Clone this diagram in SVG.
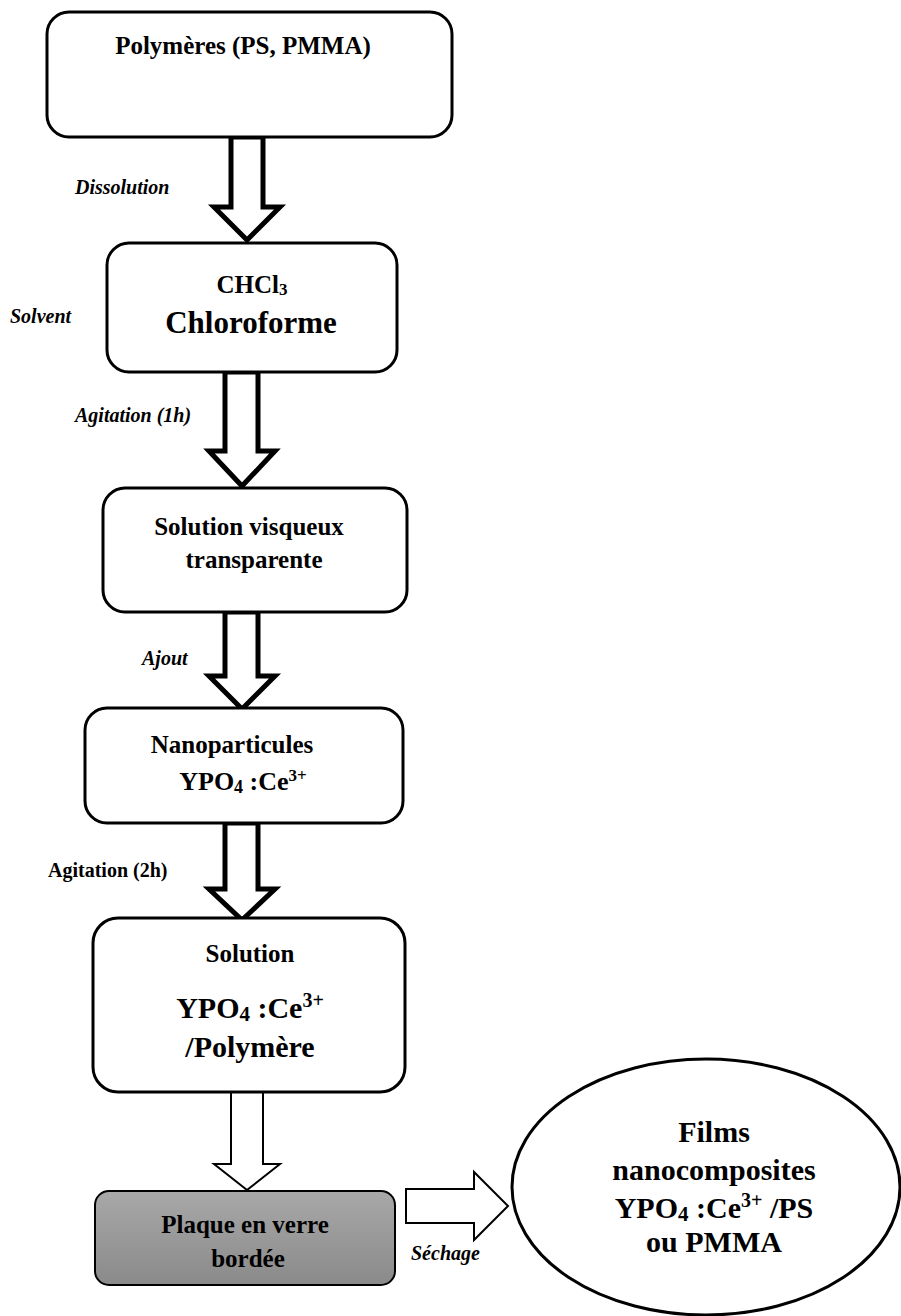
<svg xmlns="http://www.w3.org/2000/svg" width="901" height="1316" viewBox="0 0 901 1316">
<style>
.box{fill:#fff;stroke:#000;stroke-width:3}
.t{font-family:"Liberation Serif","Times New Roman",serif;font-weight:bold;fill:#000;text-anchor:middle}
.lbl{font-family:"Liberation Serif","Times New Roman",serif;font-weight:bold;font-style:italic;fill:#000}
.lb{font-family:"Liberation Serif","Times New Roman",serif;font-weight:bold;fill:#000}
.ar{fill:#fff;stroke:#000;stroke-width:5;stroke-linejoin:miter}
.ar2{fill:#fff;stroke:#000;stroke-width:2;stroke-linejoin:miter}
</style>
<defs>
<linearGradient id="gray" x1="0" y1="0" x2="0" y2="1">
<stop offset="0" stop-color="#a8a8a8"/>
<stop offset="1" stop-color="#8a8a8a"/>
</linearGradient>
</defs>

<g id="connectors">
<polygon class="ar" points="231,137 263,137 263,207 280,207 247,240 214,207 231,207"/>
<polygon class="ar" points="225,372 258,372 258,451 275,451 242,486 209,451 225,451"/>
<polygon class="ar" points="225,612 258,612 258,676 275,676 242,709 209,676 225,676"/>
<polygon class="ar" points="225,823 258,823 258,889 275,889 242,920 209,889 225,889"/>
<polygon class="ar2" points="231,1092 263,1092 263,1164 280,1164 247,1190 214,1164 231,1164"/>
<polygon class="ar2" points="406,1189 474,1189 474,1172 508,1206 474,1240 474,1223 406,1223"/>
<text class="lbl" x="75" y="194" font-size="20">Dissolution</text>
<text class="lbl" x="10" y="323" font-size="20">Solvent</text>
<text class="lbl" x="75" y="422" font-size="20">Agitation (1h)</text>
<text class="lbl" x="142" y="665" font-size="20">Ajout</text>
<text class="lb" x="48" y="877" font-size="20">Agitation (2h)</text>
<text class="lbl" x="411" y="1260" font-size="20">Séchage</text>
</g>

<g id="polymeres">
<rect class="box" x="47" y="12" width="405" height="125" rx="22"/>
<text class="t" x="243" y="54" font-size="25">Polymères (PS, PMMA)</text>
</g>

<g id="chloroforme">
<rect class="box" x="107" y="243" width="290" height="129" rx="22"/>
<text class="t" x="252" y="293" font-size="25">CHCl<tspan font-size="17" dy="2">3</tspan></text>
<text class="t" x="251" y="333" font-size="31">Chloroforme</text>
</g>

<g id="solution-visqueux">
<rect class="box" x="103" y="488" width="304" height="124" rx="22"/>
<text class="t" x="249" y="535" font-size="25">Solution visqueux</text>
<text class="t" x="254" y="568" font-size="25">transparente</text>
</g>

<g id="nanoparticules">
<rect class="box" x="85" y="708" width="318" height="115" rx="22"/>
<text class="t" x="232" y="753" font-size="25" fill="#222">Nanoparticules</text>
<text class="t" x="243" y="790" font-size="26">YPO<tspan font-size="18" dy="3">4</tspan><tspan dy="-3"> :Ce</tspan><tspan font-size="17" dy="-9">3+</tspan></text>
</g>

<g id="solution">
<rect class="box" x="93" y="918" width="312" height="174" rx="25"/>
<text class="t" x="250" y="962" font-size="25">Solution</text>
<text class="t" x="250" y="1018" font-size="30">YPO<tspan font-size="21" dy="3">4</tspan><tspan dy="-3"> :Ce</tspan><tspan font-size="20" dy="-11">3+</tspan></text>
<text class="t" x="250" y="1057" font-size="30">/Polymère</text>
</g>

<g id="plaque">
<rect x="95" y="1191" width="300" height="94" rx="14" fill="url(#gray)" stroke="#000" stroke-width="2"/>
<text class="t" x="245" y="1233" font-size="25">Plaque en verre</text>
<text class="t" x="248" y="1267" font-size="25">bordée</text>
</g>

<g id="films">
<ellipse cx="706" cy="1187" rx="194" ry="128" fill="#fff" stroke="#000" stroke-width="3"/>
<text class="t" x="714" y="1142" font-size="30">Films</text>
<text class="t" x="714" y="1180" font-size="30">nanocomposites</text>
<text class="t" x="714" y="1218" font-size="30">YPO<tspan font-size="21" dy="3">4</tspan><tspan dy="-3"> :Ce</tspan><tspan font-size="20" dy="-11">3+</tspan><tspan dy="11"> /PS</tspan></text>
<text class="t" x="714" y="1252" font-size="30">ou PMMA</text>
</g>
</svg>
